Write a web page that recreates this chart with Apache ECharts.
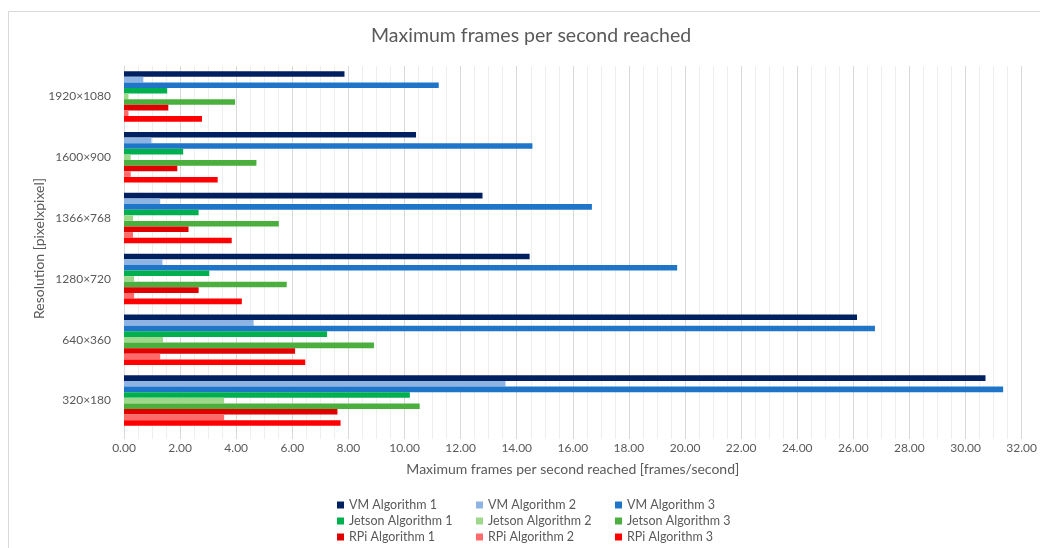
<!DOCTYPE html>
<html>
<head>
<meta charset="utf-8">
<script src="https://cdn.jsdelivr.net/npm/echarts@6/dist/echarts.min.js"></script>
<style>html,body{margin:0;padding:0;background:#fff}#c{width:1040px;height:548px}</style>
</head>
<body>
<div id="c"></div>
<script>
const categories = ['1920×1080', '1600×900', '1366×768', '1280×720', '640×360', '320×180'];
const seriesNames = ['VM Algorithm 1', 'VM Algorithm 2', 'VM Algorithm 3',
  'Jetson Algorithm 1', 'Jetson Algorithm 2', 'Jetson Algorithm 3',
  'RPi Algorithm 1', 'RPi Algorithm 2', 'RPi Algorithm 3'];
const vm1 = [7.86, 10.41, 12.78, 14.46, 26.13, 30.71];
const vm2 = [0.69, 0.98, 1.29, 1.37, 4.62, 13.60];
const vm3 = [11.22, 14.56, 16.68, 19.72, 26.77, 31.34];
const jetson1 = [1.54, 2.11, 2.66, 3.04, 7.24, 10.19];
const jetson2 = [0.16, 0.24, 0.32, 0.36, 1.39, 3.57];
const jetson3 = [3.96, 4.72, 5.52, 5.80, 8.91, 10.54];
const rpi1 = [1.58, 1.90, 2.30, 2.66, 6.10, 7.61];
const rpi2 = [0.16, 0.24, 0.32, 0.36, 1.29, 3.57];
const rpi3 = [2.78, 3.34, 3.84, 4.20, 6.46, 7.72];
const seriesData = [vm1, vm2, vm3, jetson1, jetson2, jetson3, rpi1, rpi2, rpi3];
const colors = ['#002060', '#8EB4E3', '#1F76C8', '#00B04F', '#9DD88B', '#4AAF3D', '#E00000', '#FF6B6B', '#FF0000'];

const FONT = 'Lato';
const TXT = '#595959';

const chart = echarts.init(document.getElementById('c'), null, {renderer: 'canvas'});

function legendCol(idx, left) {
  return {
    orient: 'vertical', left: left, top: 497, height: 80, padding: 0,
    data: idx.map(i => seriesNames[i]),
    icon: 'rect', itemWidth: 7, itemHeight: 7, itemGap: 0,
    selectedMode: false,
    textStyle: {color: TXT, fontFamily: FONT, fontSize: 12.5, lineHeight: 16}
  };
}

chart.setOption({
  backgroundColor: '#ffffff',
  animation: false,
  color: colors,
  title: {
    text: 'Maximum frames per second reached',
    left: 371, top: 26, padding: 0,
    textStyle: {color: TXT, fontFamily: FONT, fontSize: 19.5, fontWeight: 'normal'}
  },
  graphic: [{
    type: 'rect', shape: {x: 8.5, y: 11.5, width: 1100, height: 600},
    style: {fill: null, stroke: '#d9d9d9', lineWidth: 1}, silent: true, z: -1
  }],
  legend: [legendCol([0, 3, 6], 337), legendCol([1, 4, 7], 476), legendCol([2, 5, 8], 615)],
  grid: {left: 124, right: 18, top: 66, bottom: 117, containLabel: false},
  xAxis: {
    type: 'value', min: 0, max: 32, interval: 2,
    name: 'Maximum frames per second reached [frames/second]',
    nameLocation: 'middle', nameGap: 31,
    nameTextStyle: {color: TXT, fontFamily: FONT, fontSize: 14},
    axisLine: {show: false},
    axisTick: {show: true, length: 8, lineStyle: {color: '#d9d9d9'}},
    minorTick: {show: true, splitNumber: 4, length: 8, lineStyle: {color: '#eeeeee'}},
    axisLabel: {color: TXT, fontFamily: FONT, fontSize: 12, margin: 11,
      formatter: v => v.toFixed(2)},
    splitLine: {show: true, lineStyle: {color: '#d9d9d9', width: 1}},
    minorSplitLine: {show: true, lineStyle: {color: '#eeeeee', width: 1}}
  },
  yAxis: {
    type: 'category', data: categories, inverse: true,
    name: 'Resolution [pixelxpixel]',
    nameLocation: 'middle', nameGap: 78, nameRotate: 90, nameMoveOverlap: false,
    nameTextStyle: {color: TXT, fontFamily: FONT, fontSize: 14},
    axisLine: {show: false}, axisTick: {show: false},
    axisLabel: {color: TXT, fontFamily: FONT, fontSize: 12, margin: 13},
    splitLine: {show: false}
  },
  series: seriesData.map((d, i) => ({
    name: seriesNames[i], type: 'bar', data: d,
    barGap: '0%', barCategoryGap: '17%',
    itemStyle: {color: colors[i]}
  }))
});
</script>
</body>
</html>
